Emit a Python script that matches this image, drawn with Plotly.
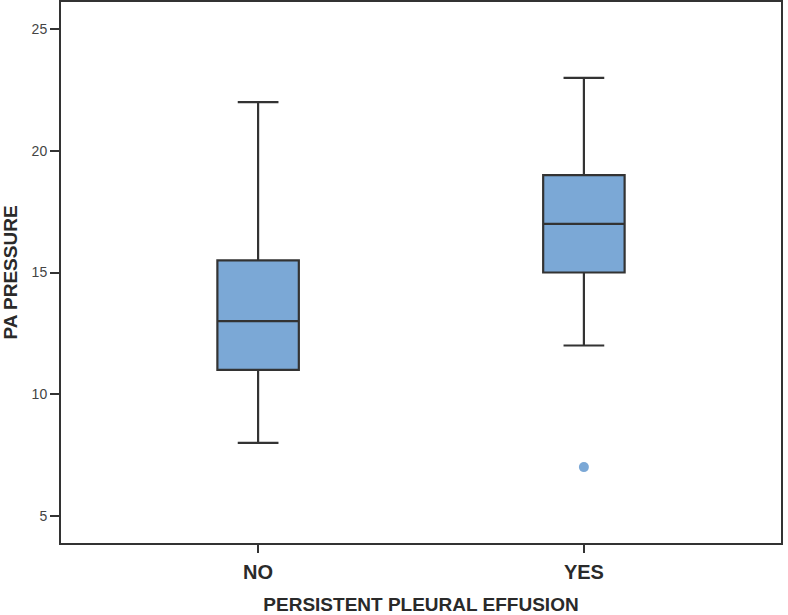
import plotly.graph_objects as go

categories = ["NO", "YES"]
q1 = [11, 15]
median = [13, 17]
q3 = [15.5, 19]
lower = [8, 12]
upper = [22, 23]
outlier_x = ["YES"]
outlier_y = [7]
y_ticks = [5, 10, 15, 20, 25]

fill = "#7BA8D6"
dark = "#333333"

fig = go.Figure()
fig.add_trace(go.Box(
    x=categories, q1=q1, median=median, q3=q3,
    lowerfence=lower, upperfence=upper,
    fillcolor=fill, line=dict(color=dark, width=2.2),
    width=0.25, whiskerwidth=0.5, boxpoints=False, showlegend=False,
    hoverinfo="skip",
))
fig.add_trace(go.Scatter(
    x=outlier_x, y=outlier_y, mode="markers",
    marker=dict(color=fill, size=10), showlegend=False,
))

fig.update_layout(
    width=788, height=615,
    margin=dict(l=61, r=7, t=2, b=72, autoexpand=False),
    plot_bgcolor="white", paper_bgcolor="white",
    font=dict(family="Liberation Sans, Arial, sans-serif", color="#333333"),
)
fig.update_xaxes(
    type="category", categoryorder="array", categoryarray=categories,
    range=[-0.605, 1.605], automargin=False,
    showline=True, linecolor=dark, linewidth=2, mirror=True,
    ticks="outside", ticklen=8, tickwidth=2, tickcolor=dark,
    ticklabelstandoff=2,
    showgrid=False, zeroline=False,
    tickfont=dict(size=20, color="#2a2a2a", family="Liberation Sans, Arial, sans-serif", weight="bold"),
    title=dict(text="<b>PERSISTENT PLEURAL EFFUSION</b>", font=dict(size=19, color="#2a2a2a"), standoff=20),
)
fig.update_yaxes(
    range=[3.88, 26.12], tickvals=y_ticks, automargin=False,
    showline=True, linecolor=dark, linewidth=2, mirror=True,
    ticks="outside", ticklen=9, tickwidth=2, tickcolor=dark,
    showgrid=False, zeroline=False,
    tickfont=dict(size=14, color="#444444"),
    title=dict(text="<b>PA PRESSURE</b>", font=dict(size=19, color="#2a2a2a"), standoff=13),
)

fig.write_html(
    "out.html",
    config={"displayModeBar": False},
    post_script="document.body.style.margin='0';document.body.style.overflow='hidden';",
)
